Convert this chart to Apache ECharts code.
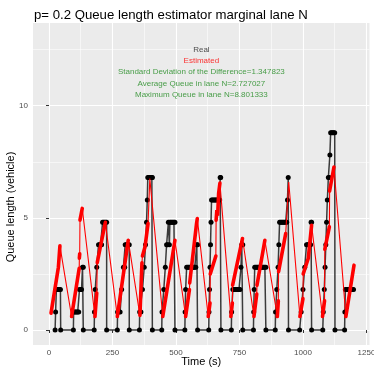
<!DOCTYPE html>
<html>
<head>
<meta charset="utf-8">
<script src="https://cdn.jsdelivr.net/npm/echarts@6/dist/echarts.min.js"></script>
<style>html,body{margin:0;padding:0;background:#fff}#c{width:374px;height:368px}</style>
</head>
<body>
<div id="c"></div>
<script>
// ---- data (time in s, queue in vehicles) ----
const realSeries = [
  [24,0],[26,0.8],[29,1.8],[33,1.8],[37,1.8],[41,1.8],[45,1.8],[46,0],
  [96,0],[97,0.8],[101,0.8],[105,0.8],[109,0.8],[113,0.8],[117,0.8],[120,1.8],[124,1.8],[128,1.8],[132,2.8],[135,2.8],[135,0],
  [178,0],[179,0.8],[182,1.8],[188,2.8],[195,3.8],[199,3.8],[203,3.8],[207,3.8],[211,4.8],[215,4.8],[219,4.8],[223,4.8],[227,4.8],[227,0],
  [269,0],[270,0.8],[275,0.8],[280,0.8],[286,1.8],[293,2.8],[298,2.8],[300,3.8],[304,3.8],[308,3.8],[312,3.8],[316,3.8],[316,0],
  [356,0],[357,0.8],[362,0.8],[368,1.8],[375,2.8],[380,3.8],[384,4.8],[387,5.8],[389,6.8],[393,6.8],[397,6.8],[401,6.8],[405,6.8],[407,6.8],[407,0],
  [444,0],[445,0.8],[452,1.8],[458,2.8],[463,3.8],[467,3.8],[470,4.8],[474,3.8],[476,4.8],[480,4.8],[484,4.8],[488,4.8],[492,4.8],[496,4.8],[496,0],
  [535,0],[536,0.8],[538,1.8],[542,2.8],[546,2.8],[550,2.8],[554,2.8],[558,2.8],[562,2.8],[566,2.8],[570,2.8],[574,2.8],[578,2.8],[582,3.8],[585,3.8],[585,0],
  [629,0],[630,0.8],[632,1.8],[634,2.8],[636,3.8],[638,4.8],[640,5.8],[644,5.8],[648,5.8],[652,5.8],[656,5.8],[660,5.8],[664,5.8],[668,5.8],[672,5.8],[674,6.8],[676,6.8],[677,0],
  [718,0],[719,0.8],[724,1.8],[728,1.8],[732,1.8],[736,1.8],[740,1.8],[744,1.8],[748,1.8],[752,1.8],[756,2.8],[759,3.8],[763,3.8],[763,0],
  [805,0],[806,0.8],[808,1.8],[810,2.8],[814,2.8],[818,2.8],[822,2.8],[826,2.8],[830,2.8],[834,2.8],[838,2.8],[842,2.8],[846,2.8],[850,2.8],[854,2.8],[854,0],
  [891,0],[892,0.8],[897,1.8],[902,2.8],[905,3.8],[908,4.8],[912,4.8],[916,4.8],[920,4.8],[924,4.8],[928,4.8],[932,4.8],[936,4.8],[939,5.8],[942,6.8],[943,0],
  [987,0],[993,0.8],[1000,1.8],[1007,2.8],[1014,3.8],[1018,3.8],[1022,3.8],[1026,3.8],[1030,3.8],[1032,4.8],[1034,4.8],[1034,0],
  [1078,0],[1080,0.8],[1084,1.8],[1087,2.8],[1090,3.8],[1093,4.8],[1096,5.8],[1100,6.8],[1104,6.8],[1106,7.8],[1109,8.8],[1113,8.8],[1117,8.8],[1121,8.8],[1125,8.8],[1126,0],
  [1164,0],[1165,0.8],[1167,1.8],[1171,1.8],[1175,1.8],[1179,1.8],[1183,1.8],[1187,1.8],[1191,1.8],[1195,1.8],[1199,1.8]
];

// estimated queue: runs of densely sampled points (drawn thick), joined by thin line
const estimatedRuns = [
  [[8,0.75],[37,2.8],[43,3.75]],
  [[89,0.6],[119,2.75]],
  [[119.5,3.2],[121,3.4]],
  [[122,4.9],[131,5.42]],
  [[181,0.6],[188,1.65]],
  [[190,3.0],[203,3.75],[222,4.8]],
  [[269,0.6],[312,4.0]],
  [[358,0.65],[366,3.0]],
  [[368,3.3],[378,3.7],[390,4.75]],
  [[397,6.75]],
  [[448,0.6],[496,4.0]],
  [[538,0.6],[553,1.8]],
  [[554,2.1],[581,4.75],[584,4.97]],
  [[627,0.6],[634,1.2]],
  [[635,2.5],[657,3.3]],
  [[658,4.9],[661,5.35],[664,5.1],[668,6.1],[673,6.55]],
  [[716,0.6],[722,1.2]],
  [[723,2.0],[762,4.08]],
  [[807,0.6],[818,1.6]],
  [[819,2.0],[850,4.0]],
  [[899,0.6],[903,1.3]],
  [[904,2.6],[932,4.3]],
  [[944,6.6]],
  [[988,0.6],[1000,1.4]],
  [[1001,2.5],[1021,3.2],[1034,4.67]],
  [[1077,0.6],[1085,1.3]],
  [[1086,3.6],[1104,4.6]],
  [[1105,6.2],[1122,7.27]],
  [[1169,0.6],[1201,2.89]]
];

const xTicks = [0,250,500,750,1000,1250];
const xMinor = [125,375,625,875,1125];
const yTicks = [0,5,10];
const yMinor = [2.5,7.5,12.5];

const noteTexts = ['Real','Estimated','Standard Deviation of the Difference=1.347823','Average Queue in lane N=2.727027','Maximum Queue in lane N=8.801333'];
const noteColors = ['#1a1a1a','#ff0000','#1f8a1f','#1f8a1f','#1f8a1f'];
const noteX = 600;
const noteY = [12.5,12.0,11.5,11.0,10.5];

const titleText = 'p= 0.2 Queue length estimator marginal lane N';
const xTitle = 'Time (s)';
const yTitle = 'Queue length (vehicle)';

// ---- build ----
const FONT = "'Liberation Sans', Arial, sans-serif";
const thinData = [].concat(...estimatedRuns);
const thickData = [];
estimatedRuns.forEach((r, i) => { if (i) thickData.push(null); r.forEach(p => thickData.push(p)); });

const X_MIN = -63, X_MAX = 1262, Y_MIN = -0.67, Y_MAX = 13.69;

const chart = echarts.init(document.getElementById('c'), null, {renderer: 'canvas'});
chart.setOption({
  animation: false,
  backgroundColor: '#ffffff',
  title: {
    text: titleText, left: 29, top: 4,
    textStyle: {fontFamily: FONT, fontSize: 13.2, fontWeight: 'normal', color: '#000'}
  },
  grid: {left: 33, right: 4.5, top: 23, bottom: 23, show: true, backgroundColor: '#EBEBEB',
         borderWidth: 0, outerBoundsMode: 'none', containLabel: false},
  xAxis: [{
    type: 'value', min: X_MIN, max: X_MAX,
    name: xTitle, nameLocation: 'middle', nameGap: 11, nameMoveOverlap: false,
    nameTextStyle: {fontFamily: FONT, fontSize: 11, color: '#000'},
    axisLine: {show: false},
    axisTick: {show: true, length: 3, customValues: xTicks, lineStyle: {color: '#333', width: 1}},
    axisLabel: {customValues: xTicks, formatter: v => String(v), fontFamily: FONT, fontSize: 8, color: '#4d4d4d', margin: 4},
    splitLine: {show: true, lineStyle: {color: '#ffffff', width: 1.1}}
  }, {
    type: 'value', min: X_MIN, max: X_MAX, position: 'bottom',
    axisLine: {show: false}, axisLabel: {show: false},
    axisTick: {show: false, customValues: xMinor},
    splitLine: {show: true, lineStyle: {color: '#ffffff', width: 0.55}}
  }],
  yAxis: [{
    type: 'value', min: Y_MIN, max: Y_MAX,
    name: yTitle, nameLocation: 'middle', nameGap: 17, nameMoveOverlap: false,
    nameTextStyle: {fontFamily: FONT, fontSize: 11, color: '#000', padding: [0, 46, 0, 0]},
    axisLine: {show: false},
    axisTick: {show: true, length: 3, customValues: yTicks, lineStyle: {color: '#333', width: 1}},
    axisLabel: {customValues: yTicks, formatter: v => String(v), fontFamily: FONT, fontSize: 8, color: '#4d4d4d', margin: 5},
    splitLine: {show: true, lineStyle: {color: '#ffffff', width: 1.1}}
  }, {
    type: 'value', min: Y_MIN, max: Y_MAX, position: 'left',
    axisLine: {show: false}, axisLabel: {show: false},
    axisTick: {show: false, customValues: yMinor},
    splitLine: {show: true, lineStyle: {color: '#ffffff', width: 0.55}}
  }],
  series: [
    {
      name: 'Real', type: 'line', data: realSeries, xAxisIndex: 0, yAxisIndex: 0,
      symbol: 'circle', symbolSize: 5, showAllSymbol: true,
      itemStyle: {color: '#000'}, lineStyle: {color: '#3a3a3a', width: 1.5}, z: 2
    },
    {
      name: 'EstThin', type: 'line', data: thinData, symbol: 'none',
      lineStyle: {color: '#ff0000', width: 1.1}, z: 3
    },
    {
      name: 'Estimated', type: 'line', data: thickData, symbol: 'none', connectNulls: false,
      lineStyle: {color: '#ff0000', width: 3.6, cap: 'round'}, z: 4
    },
    {
      name: 'notes', type: 'scatter', symbolSize: 0, z: 5,
      data: noteTexts.map((t, i) => ({
        value: [noteX, noteY[i]],
        label: {show: true, position: 'inside', formatter: t, color: noteColors[i],
                fontFamily: FONT, fontSize: 8}
      }))
    }
  ]
});
</script>
</body>
</html>
